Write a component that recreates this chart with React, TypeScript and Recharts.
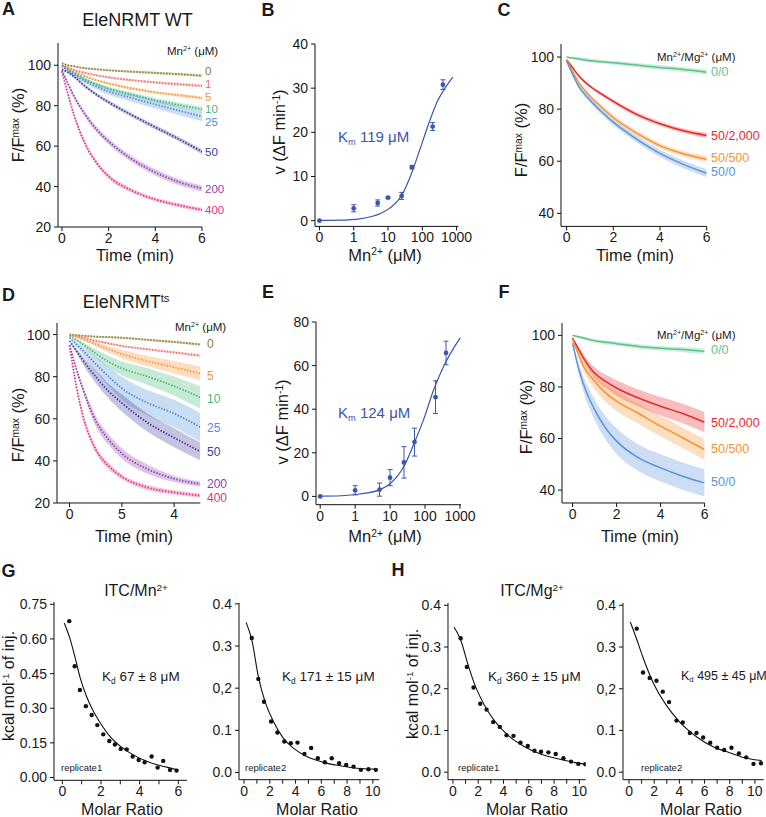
import React from 'react';
import { ComposedChart, Line, Area, Scatter, ErrorBar, XAxis, YAxis } from 'recharts';

const FONT = '"Liberation Sans", Arial, Helvetica, sans-serif';
const INK = '#1a1a1a';

// ---------- A: EleNRMT WT, Mn2+ series (F/Fmax %) ----------
const timeA = [0, 0.25, 0.5, 1, 1.5, 2, 3, 4, 5, 6];
const wt0 = [101, 100, 99.5, 98.5, 98, 97.5, 96.8, 96.2, 95.6, 94.8];
const wt1 = [100, 99, 97.8, 96.2, 95, 94, 92.6, 91.5, 90.6, 89.8];
const wt5 = [100, 98.5, 97, 94.5, 92.5, 91, 88.5, 86.6, 85.2, 83.8];
const wt10 = [100, 98, 96.3, 93, 90.5, 88.5, 85.5, 82.7, 80.4, 78.2];
const wt25 = [99.5, 97.5, 95.5, 92, 89.3, 87, 83.8, 80.6, 77.6, 74.6];
const wt50 = [98, 96.5, 94.5, 89.5, 85.3, 81.7, 75.3, 69.3, 63.5, 57.2];
const wt200 = [97.5, 91, 85, 75.5, 68, 62.3, 53.5, 47, 42.3, 39];
const wt400 = [97, 86, 76, 61, 51.5, 45, 38, 33.6, 30.8, 28.5];
const wtSd0 = [0.3, 0.4, 0.4, 0.5, 0.5, 0.5, 0.6, 0.6, 0.7, 0.7];
const wtSd1 = [0.3, 0.4, 0.4, 0.5, 0.5, 0.5, 0.6, 0.6, 0.7, 0.7];
const wtSd5 = [0.3, 0.4, 0.5, 0.6, 0.6, 0.6, 0.7, 0.7, 0.8, 0.8];
const wtSd10 = [0.3, 0.5, 0.6, 0.8, 0.9, 1, 1, 1.1, 1.2, 1.3];
const wtSd25 = [0.3, 0.6, 0.8, 1.2, 1.4, 1.6, 1.8, 2, 2.2, 2.3];
const wtSd50 = [0.3, 0.5, 0.6, 0.8, 0.9, 1, 1, 1.1, 1.1, 1.2];
const wtSd200 = [0.3, 0.8, 1, 1.3, 1.4, 1.5, 1.5, 1.5, 1.5, 1.5];
const wtSd400 = [0.3, 0.8, 1, 1.2, 1.2, 1.2, 1.1, 1, 1, 1];

// ---------- D: EleNRMTts, Mn2+ series ----------
const timeD = [0, 0.25, 0.5, 1, 1.5, 2, 3, 4, 5];
const ts0 = [100, 99.7, 99.5, 99, 98.8, 98.5, 97.5, 96.5, 95.3];
const ts1 = [100, 99.3, 98.7, 97, 95.8, 94.6, 93, 91.5, 90];
const ts5 = [100, 99, 97.8, 95.5, 93, 90.8, 87.3, 84.5, 81.5];
const ts10 = [99.5, 97.5, 95.5, 91, 87, 84, 80, 75.5, 70.2];
const ts25 = [98.5, 95.5, 92.5, 86, 80, 74.5, 67.5, 62.5, 56];
const ts50 = [97, 92.5, 88, 80, 73, 67.5, 58, 51, 44.5];
const ts200 = [95, 84, 74.5, 59, 50, 43.5, 36, 31.5, 29];
const ts400 = [95, 76, 62, 45.5, 37.5, 32.5, 27.3, 25, 23.5];
const tsSd0 = [0.3, 0.4, 0.4, 0.5, 0.5, 0.5, 0.5, 0.6, 0.6];
const tsSd1 = [0.3, 0.4, 0.4, 0.5, 0.5, 0.5, 0.5, 0.6, 0.6];
const tsSd5 = [0.2, 0.3, 0.5, 1, 1.5, 2, 2.5, 3, 3.3];
const tsSd10 = [0.2, 0.5, 1, 2, 2.8, 3.3, 4, 4.6, 5.3];
const tsSd25 = [0.2, 1, 2, 3.5, 4.5, 5.5, 6, 6.5, 6.8];
const tsSd50 = [0.2, 1, 2, 3, 3.5, 4, 4.3, 4.5, 4.2];
const tsSd200 = [0.2, 1, 1.5, 2.5, 2.5, 2.5, 2.2, 1.5, 1.2];
const tsSd400 = [0.2, 1, 1.5, 1.5, 1.5, 1.2, 1.2, 1, 1];

const mnLabels = ['0', '1', '5', '10', '25', '50', '200', '400'];
const mnColors = ['#8a7b2c', '#f26d6d', '#f7922f', '#44b87b', '#4c8fd8', '#3b3b9f', '#8f3fae', '#e23189'];

// ---------- C / F: Mn2+/Mg2+ competition ----------
const timeMg = [0, 0.25, 0.5, 1, 1.5, 2, 3, 4, 5, 6];
const wtMg00 = [100, 99.6, 99.3, 98.6, 98.2, 97.8, 96.9, 96, 95.2, 94.2];
const wtMg2000 = [99, 96, 93, 88.8, 85.8, 83, 78, 74.4, 71.7, 69.9];
const wtMg500 = [99, 94.5, 90.5, 85, 80.7, 76.8, 70.8, 66, 62.9, 60.8];
const wtMg0 = [98.5, 93.5, 89, 83.5, 79, 75, 68.5, 63, 58.8, 55.4];
const wtMgSd00 = [0.3, 0.5, 0.6, 0.7, 0.7, 0.8, 0.8, 0.9, 0.9, 1];
const wtMgSd2000 = [0.3, 0.4, 0.5, 0.6, 0.7, 0.8, 0.8, 0.9, 0.9, 1];
const wtMgSd500 = [0.3, 0.5, 0.6, 0.7, 0.8, 0.9, 1, 1, 1, 1.1];
const wtMgSd0 = [0.3, 0.6, 0.8, 1, 1.1, 1.2, 1.3, 1.4, 1.5, 1.5];
const tsMg00 = [100, 99.5, 99, 97.9, 97.3, 96.8, 95.7, 95, 94.5, 93.8];
const tsMg2000 = [99, 95, 91.2, 85.4, 82.2, 79.6, 75.7, 72.5, 69.7, 66.3];
const tsMg500 = [98.5, 93, 88, 82.2, 77.7, 74.5, 69.7, 64.8, 60.3, 55.7];
const tsMg0 = [97, 88, 81, 71.2, 64.1, 59, 52.5, 48.6, 45.4, 42.8];
const tsMgSd00 = [0.3, 0.5, 0.6, 0.7, 0.8, 0.8, 0.9, 0.9, 1, 1];
const tsMgSd2000 = [0.2, 1, 1.5, 2.2, 2.6, 3, 3.3, 3.6, 3.8, 4];
const tsMgSd500 = [0.2, 1.2, 2, 3, 3.5, 3.8, 4, 4, 4, 4];
const tsMgSd0 = [0.2, 2, 3, 4, 4.5, 5, 5.2, 5.3, 5.3, 5.3];
const mgLabels = ['0/0', '50/2,000', '50/500', '50/0'];
const mgColors = ['#5cc28a', '#e8292b', '#f7922e', '#5b93da'];

// ---------- B / E: rate vs [Mn2+] ----------
const concMn = [0, 1, 5, 10, 25, 50, 200, 400];
const rateWt = [0, 2.8, 4.0, 5.2, 5.6, 12.1, 21.3, 30.8];
const errWt = [0, 0.8, 0.7, 0.2, 0.8, 0.4, 0.9, 1.1];
const fitConcWt = [0.1, 0.4, 1.5, 6, 11.5, 25, 49, 85, 150, 260, 460, 780];
const fitRateWt = [0.05, 0.1, 0.4, 1.6, 2.9, 5.7, 10.8, 16.1, 21.7, 26.6, 30, 32.5];
const rateTs = [0, 2.8, 3.1, 8.6, 15.6, 24.9, 45.5, 65.8];
const errTs = [0, 2.1, 3, 3.7, 7.2, 6.4, 7.5, 5.4];
const fitConcTs = [0.1, 0.4, 1.4, 5.2, 10, 25, 47, 91, 178, 340, 660, 1020];
const fitRateTs = [0.1, 0.3, 1.1, 3.1, 5.8, 13.8, 23.7, 35.2, 49, 59.6, 68, 72.7];
const concTickLabels = ['0', '1', '10', '100', '1000'];
const KM_BLUE = '#3a56b0';

// ---------- G / H: ITC ----------
const mnRep1X = [0.36, 0.64, 0.91, 1.22, 1.52, 1.81, 2.12, 2.43, 2.72, 3.02, 3.33, 3.64, 3.95, 4.26, 4.62, 4.93, 5.22, 5.57, 5.91];
const mnRep1Y = [0.677, 0.482, 0.379, 0.309, 0.271, 0.227, 0.187, 0.158, 0.143, 0.124, 0.122, 0.091, 0.076, 0.066, 0.091, 0.043, 0.072, 0.033, 0.03];
const mnRep1FitX = [0.1, 0.4, 0.66, 0.91, 1.26, 1.6, 1.95, 2.47, 2.98, 3.67, 4.53, 5.4, 6];
const mnRep1FitY = [0.669, 0.6, 0.52, 0.436, 0.35, 0.288, 0.238, 0.177, 0.137, 0.098, 0.065, 0.045, 0.033];
const mnRep2X = [0.6, 1.11, 1.55, 2.1, 2.59, 3.13, 3.63, 4.15, 4.69, 5.21, 5.73, 6.27, 6.81, 7.38, 7.93, 8.5, 9.07, 9.66, 10.23];
const mnRep2Y = [0.319, 0.222, 0.168, 0.121, 0.095, 0.0735, 0.0696, 0.071, 0.044, 0.058, 0.034, 0.0245, 0.034, 0.022, 0.018, 0.014, 0.0063, 0.0079, 0.0063];
const mnRep2FitX = [0.16, 0.6, 1.11, 1.63, 2.28, 3.06, 3.83, 4.87, 6.17, 7.46, 8.76, 10.23];
const mnRep2FitY = [0.356, 0.315, 0.228, 0.168, 0.121, 0.081, 0.058, 0.038, 0.024, 0.016, 0.01, 0.008];
const mgRep1X = [0.61, 1.1, 1.63, 2.16, 2.66, 3.18, 3.71, 4.24, 4.79, 5.34, 5.92, 6.45, 6.97, 7.55, 8.13, 8.74, 9.34, 9.92, 10.47];
const mgRep1Y = [0.321, 0.252, 0.203, 0.164, 0.15, 0.12, 0.1085, 0.0887, 0.0871, 0.0705, 0.0626, 0.0515, 0.049, 0.0475, 0.0436, 0.0333, 0.0253, 0.0198, 0.019];
const mgRep1FitX = [0.08, 0.6, 1.18, 1.71, 2.5, 3.29, 4.34, 5.66, 6.97, 8.29, 10, 10.5];
const mgRep1FitY = [0.348, 0.318, 0.259, 0.211, 0.16, 0.123, 0.0887, 0.061, 0.043, 0.032, 0.021, 0.019];
const mgRep2X = [0.61, 1.11, 1.64, 2.18, 2.68, 3.18, 3.77, 4.27, 4.83, 5.36, 5.89, 6.45, 7.0, 7.56, 8.14, 8.73, 9.31, 9.89, 10.48];
const mgRep2Y = [0.344, 0.239, 0.226, 0.219, 0.193, 0.168, 0.1236, 0.119, 0.094, 0.094, 0.083, 0.0705, 0.0586, 0.053, 0.0586, 0.045, 0.0356, 0.0198, 0.0214];
const mgRep2FitX = [0.1, 0.58, 1.11, 1.91, 2.97, 4.03, 5.36, 6.68, 8.01, 9.34, 10.53];
const mgRep2FitY = [0.36, 0.321, 0.275, 0.215, 0.16, 0.12, 0.085, 0.061, 0.0467, 0.0333, 0.028];
const itcTicks4 = ['0.0', '0.1', '0,2', '0.3', '0.4'];

// ---------- layout helpers ----------
const M = { top: 12, right: 24, left: 0, bottom: 0 };
const YW = 48;
const XH = 32;
const axisStroke = { stroke: '#111', strokeWidth: 1 };
const tickFont = { fill: INK, fontSize: 14 };

function frame(r: number[]) {
  const [x0, y0, x1, y1] = r;
  return { left: x0 - YW, top: y0 - M.top, width: x1 - x0 + YW + M.right, height: y1 - y0 + M.top + XH };
}

const logPos = (c: number) => (c > 0 ? Math.log10(c) : -1);

type Trace = { mean: number[]; sd: number[]; color: string };

function axes(xKey: string, xDomain: number[], xTicks: number[], xFmt: (v: number, i: number) => string,
  yDomain: number[], yTicks: number[], yFmt: (v: number, i: number) => string) {
  return [
    <XAxis key="x" xAxisId={0} type="number" dataKey={xKey} domain={xDomain} ticks={xTicks} interval={0}
      allowDataOverflow height={XH} axisLine={axisStroke} tickLine={axisStroke} tickSize={4} tickMargin={2}
      tick={tickFont} tickFormatter={xFmt} />,
    <YAxis key="y" yAxisId={0} type="number" domain={yDomain} ticks={yTicks} interval={0}
      allowDataOverflow width={YW} axisLine={axisStroke} tickLine={axisStroke} tickSize={4} tickMargin={3}
      tick={tickFont} tickFormatter={yFmt} />,
  ];
}

function TracePanel({ rect, time, traces, xDomain, xTicks, xLabels, yDomain, yTicks, dotted }: {
  rect: number[]; time: number[]; traces: Trace[]; xDomain: number[]; xTicks: number[]; xLabels: string[];
  yDomain: number[]; yTicks: number[]; dotted: boolean;
}) {
  const data = time.map((t, i) => {
    const row: Record<string, unknown> = { t };
    traces.forEach((s, k) => {
      row['m' + k] = s.mean[i];
      row['b' + k] = [s.mean[i] - s.sd[i], s.mean[i] + s.sd[i]];
    });
    return row;
  });
  const f = frame(rect);
  return (
    <div style={{ position: 'absolute', left: f.left, top: f.top }}>
      <ComposedChart width={f.width} height={f.height} data={data} margin={M}>
        {axes('t', xDomain, xTicks, (_v, i) => xLabels[i], yDomain, yTicks, (v) => String(v))}
        {traces.map((s, k) => (
          <Area key={'b' + k} dataKey={'b' + k} type="monotone" stroke="none" fill={s.color}
            fillOpacity={0.3} isAnimationActive={false} />
        ))}
        {traces.map((s, k) => (
          <Line key={'m' + k} dataKey={'m' + k} type="monotone" stroke={s.color} strokeWidth={dotted ? 1.8 : 1.5}
            strokeDasharray={dotted ? '1.4 1.6' : undefined} dot={false} isAnimationActive={false} />
        ))}
      </ComposedChart>
    </div>
  );
}

function RatePanel({ rect, rate, err, fitConc, fitRate, yDomain, yTicks }: {
  rect: number[]; rate: number[]; err: number[]; fitConc: number[]; fitRate: number[];
  yDomain: number[]; yTicks: number[];
}) {
  const pts = concMn.map((c, i) => ({ x: logPos(c), y: rate[i], err: err[i] }));
  const fit = fitConc.map((c, i) => ({ x: logPos(c), y: fitRate[i] }));
  const f = frame(rect);
  return (
    <div style={{ position: 'absolute', left: f.left, top: f.top }}>
      <ComposedChart width={f.width} height={f.height} margin={M}>
        {axes('x', [rect[4], rect[5]], [-1, 0, 1, 2, 3], (_v, i) => concTickLabels[i], yDomain, yTicks, (v) => String(v))}
        <Line data={fit} dataKey="y" type="monotone" stroke={KM_BLUE} strokeWidth={1.2} dot={false} isAnimationActive={false} />
        <Scatter data={pts} dataKey="y" fill={KM_BLUE} isAnimationActive={false}
          shape={(p: any) => <circle cx={p.cx} cy={p.cy} r={2.4} fill={KM_BLUE} />}>
          <ErrorBar dataKey="err" direction="y" width={2.5} stroke={KM_BLUE} strokeWidth={1} />
        </Scatter>
      </ComposedChart>
    </div>
  );
}

function ItcPanel({ rect, xs, ys, fx, fy, xDomain, xMax, yDomain, yTicks, yLabels }: {
  rect: number[]; xs: number[]; ys: number[]; fx: number[]; fy: number[]; xDomain: number[]; xMax: number;
  yDomain: number[]; yTicks: number[]; yLabels: string[];
}) {
  const pts = xs.map((x, i) => ({ x, y: ys[i] }));
  const fit = fx.map((x, i) => ({ x, y: fy[i] }));
  const xTicks = Array.from({ length: xMax + 1 }, (_, i) => i);
  const f = frame(rect);
  return (
    <div style={{ position: 'absolute', left: f.left, top: f.top }}>
      <ComposedChart width={f.width} height={f.height} margin={M}>
        {axes('x', xDomain, xTicks, (v) => (v % 2 === 0 ? String(v) : ''), yDomain, yTicks, (_v, i) => yLabels[i])}
        <Line data={fit} dataKey="y" type="monotone" stroke="#111" strokeWidth={1.1} dot={false} isAnimationActive={false} />
        <Scatter data={pts} dataKey="y" fill="#111" isAnimationActive={false}
          shape={(p: any) => <circle cx={p.cx} cy={p.cy} r={2.2} fill="#111" />} />
      </ComposedChart>
    </div>
  );
}

function Txt({ x, y, size = 16, color = INK, align = 'center', bold = false, rotate = false, children }: {
  x: number; y: number; size?: number; color?: string; align?: string; bold?: boolean; rotate?: boolean;
  children: React.ReactNode;
}) {
  const tx = align === 'center' ? '-50%' : '0';
  return (
    <div style={{
      position: 'absolute', left: x, top: y, fontSize: size, color, fontWeight: bold ? 700 : 400,
      lineHeight: 0.9, whiteSpace: 'nowrap', transform: `translate(${tx}, -50%)${rotate ? ' rotate(-90deg)' : ''}`,
    }}>{children}</div>
  );
}

const Sup = ({ children }: { children: React.ReactNode }) => (
  <span style={{ fontSize: '0.62em', position: 'relative', top: '-0.5em' }}>{children}</span>
);
const Sub = ({ children }: { children: React.ReactNode }) => (
  <span style={{ fontSize: '0.62em', position: 'relative', top: '0.3em' }}>{children}</span>
);

const FFmax = () => <>F/F<Sup>max</Sup> (%)</>;
const MnConc = () => <>Mn<Sup>2+</Sup> (μM)</>;
const Kcal = () => <>kcal mol<Sup>-1</Sup> of inj.</>;

export default function App() {
  const tracesA: Trace[] = [
    { mean: wt0, sd: wtSd0, color: mnColors[0] }, { mean: wt1, sd: wtSd1, color: mnColors[1] },
    { mean: wt5, sd: wtSd5, color: mnColors[2] }, { mean: wt10, sd: wtSd10, color: mnColors[3] },
    { mean: wt25, sd: wtSd25, color: mnColors[4] }, { mean: wt50, sd: wtSd50, color: mnColors[5] },
    { mean: wt200, sd: wtSd200, color: mnColors[6] }, { mean: wt400, sd: wtSd400, color: mnColors[7] },
  ];
  const tracesD: Trace[] = [
    { mean: ts0, sd: tsSd0, color: mnColors[0] }, { mean: ts1, sd: tsSd1, color: mnColors[1] },
    { mean: ts5, sd: tsSd5, color: mnColors[2] }, { mean: ts10, sd: tsSd10, color: mnColors[3] },
    { mean: ts25, sd: tsSd25, color: mnColors[4] }, { mean: ts50, sd: tsSd50, color: mnColors[5] },
    { mean: ts200, sd: tsSd200, color: mnColors[6] }, { mean: ts400, sd: tsSd400, color: mnColors[7] },
  ];
  const tracesC: Trace[] = [
    { mean: wtMg00, sd: wtMgSd00, color: mgColors[0] }, { mean: wtMg2000, sd: wtMgSd2000, color: mgColors[1] },
    { mean: wtMg500, sd: wtMgSd500, color: mgColors[2] }, { mean: wtMg0, sd: wtMgSd0, color: mgColors[3] },
  ];
  const tracesF: Trace[] = [
    { mean: tsMg00, sd: tsMgSd00, color: mgColors[0] }, { mean: tsMg2000, sd: tsMgSd2000, color: mgColors[1] },
    { mean: tsMg500, sd: tsMgSd500, color: mgColors[2] }, { mean: tsMg0, sd: tsMgSd0, color: mgColors[3] },
  ];

  // label anchor positions (layout only)
  const labelYA = [71, 83.5, 96.5, 109, 121.5, 152, 189, 210];
  const labelYD = [344, null, 376, 399, 428, 452, 484, 498];
  const labelYC = [73, 137, 159, 173];
  const labelYF = [351, 424, 450, 483];

  return (
    <div style={{ position: 'absolute', left: 0, top: 0, width: 766, height: 817, background: '#fff', fontFamily: FONT, color: INK, overflow: 'hidden' }}>
      <TracePanel rect={[58, 43, 202, 227]} time={timeA} traces={tracesA} xDomain={[-0.17, 6]} xTicks={[0, 2, 4, 6]}
        xLabels={['0', '2', '4', '6']} yDomain={[20, 111]} yTicks={[20, 40, 60, 80, 100]} dotted />
      <RatePanel rect={[315, 44.3, 458.3, 226.7, -1.13, 3.05]} rate={rateWt} err={errWt} fitConc={fitConcWt}
        fitRate={fitRateWt} yDomain={[-1.3, 40]} yTicks={[0, 10, 20, 30, 40]} />
      <TracePanel rect={[561, 44.3, 706.7, 226.7]} time={timeMg} traces={tracesC} xDomain={[-0.24, 6]} xTicks={[0, 2, 4, 6]}
        xLabels={['0', '2', '4', '6']} yDomain={[35, 105]} yTicks={[40, 60, 80, 100]} dotted={false} />
      <TracePanel rect={[56.7, 323.3, 200, 503.3]} time={timeD} traces={tracesD} xDomain={[-0.48, 5]} xTicks={[0, 2, 4]}
        xLabels={['0', '5', '4']} yDomain={[20, 105.5]} yTicks={[20, 40, 60, 80, 100]} dotted />
      <RatePanel rect={[315.7, 322.3, 460.7, 505, -1.12, 3.03]} rate={rateTs} err={errTs} fitConc={fitConcTs}
        fitRate={fitRateTs} yDomain={[-3.8, 80]} yTicks={[0, 20, 40, 60, 80]} />
      <TracePanel rect={[561.7, 323.3, 704.3, 503.3]} time={timeMg} traces={tracesF} xDomain={[-0.48, 6]} xTicks={[0, 2, 4, 6]}
        xLabels={['0', '2', '4', '6']} yDomain={[35, 104.8]} yTicks={[40, 60, 80, 100]} dotted={false} />

      <ItcPanel rect={[54, 601.7, 187, 780]} xs={mnRep1X} ys={mnRep1Y} fx={mnRep1FitX} fy={mnRep1FitY}
        xDomain={[-0.43, 6.45]} xMax={6} yDomain={[-0.012, 0.76]} yTicks={[0, 0.15, 0.3, 0.45, 0.6, 0.75]}
        yLabels={['0.00', '0.15', '0.30', '0.45', '0.60', '0.75']} />
      <ItcPanel rect={[239, 603.3, 379.3, 780]} xs={mnRep2X} ys={mnRep2Y} fx={mnRep2FitX} fy={mnRep2FitY}
        xDomain={[-0.39, 10.5]} xMax={10} yDomain={[-0.017, 0.402]} yTicks={[0, 0.1, 0.2, 0.3, 0.4]} yLabels={itcTicks4} />
      <ItcPanel rect={[448.3, 603.3, 586, 780]} xs={mgRep1X} ys={mgRep1Y} fx={mgRep1FitX} fy={mgRep1FitY}
        xDomain={[-0.39, 10.5]} xMax={10} yDomain={[-0.018, 0.4055]} yTicks={[0, 0.1, 0.2, 0.3, 0.4]} yLabels={itcTicks4} />
      <ItcPanel rect={[623.3, 603.3, 764, 780]} xs={mgRep2X} ys={mgRep2Y} fx={mgRep2FitX} fy={mgRep2FitY}
        xDomain={[-0.48, 10.7]} xMax={10} yDomain={[-0.018, 0.4055]} yTicks={[0, 0.1, 0.2, 0.3, 0.4]} yLabels={itcTicks4} />

      {/* panel letters */}
      <Txt x={8.5} y={9} size={18} bold>A</Txt>
      <Txt x={268} y={10} size={18} bold>B</Txt>
      <Txt x={504} y={10} size={18} bold>C</Txt>
      <Txt x={8.5} y={295} size={18} bold>D</Txt>
      <Txt x={268} y={291.5} size={18} bold>E</Txt>
      <Txt x={504} y={291.5} size={18} bold>F</Txt>
      <Txt x={8.5} y={571} size={18} bold>G</Txt>
      <Txt x={398} y={570} size={18} bold>H</Txt>

      {/* titles */}
      <Txt x={137.5} y={20} size={18}>EleNRMT WT</Txt>
      <Txt x={126} y={302} size={18}>EleNRMT<Sup>ts</Sup></Txt>
      <Txt x={136} y={591} size={16}>ITC/Mn<Sup>2+</Sup></Txt>
      <Txt x={532} y={591} size={16}>ITC/Mg<Sup>2+</Sup></Txt>

      {/* axis labels */}
      <Txt x={135} y={254.5} size={16.5}>Time (min)</Txt>
      <Txt x={17.5} y={125} size={16.5} rotate><FFmax /></Txt>
      <Txt x={385} y={254.5} size={16.5}><MnConc /></Txt>
      <Txt x={279} y={132} size={16.5} rotate>v (ΔF min<Sup>-1</Sup>)</Txt>
      <Txt x={635} y={254.5} size={16.5}>Time (min)</Txt>
      <Txt x={521} y={140} size={16.5} rotate><FFmax /></Txt>
      <Txt x={134} y={536} size={16.5}>Time (min)</Txt>
      <Txt x={17.5} y={425} size={16.5} rotate><FFmax /></Txt>
      <Txt x={385} y={536} size={16.5}><MnConc /></Txt>
      <Txt x={282} y={422} size={16.5} rotate>v (ΔF min<Sup>-1</Sup>)</Txt>
      <Txt x={640} y={536} size={16.5}>Time (min)</Txt>
      <Txt x={526} y={417} size={16.5} rotate><FFmax /></Txt>
      <Txt x={122} y={810} size={16}>Molar Ratio</Txt>
      <Txt x={317} y={810} size={16}>Molar Ratio</Txt>
      <Txt x={527} y={810} size={16}>Molar Ratio</Txt>
      <Txt x={701} y={810} size={16}>Molar Ratio</Txt>
      <Txt x={9} y={686} size={16} rotate><Kcal /></Txt>
      <Txt x={412.5} y={684} size={16} rotate><Kcal /></Txt>

      {/* series legends */}
      <Txt x={167} y={51} size={11.5} align="start"><MnConc /></Txt>
      {mnLabels.map((l, i) => (
        <Txt key={'la' + i} x={205} y={labelYA[i]} size={11.5} color={mnColors[i]} align="start">{l}</Txt>
      ))}
      <Txt x={175} y={327} size={11.5} align="start"><MnConc /></Txt>
      {mnLabels.map((l, i) => (labelYD[i] == null ? null : (
        <Txt key={'ld' + i} x={207} y={labelYD[i] as number} size={12} color={mnColors[i]} align="start">{l}</Txt>
      )))}
      <Txt x={657} y={57} size={11.5} align="start">Mn<Sup>2+</Sup>/Mg<Sup>2+</Sup> (μM)</Txt>
      {mgLabels.map((l, i) => (
        <Txt key={'lc' + i} x={711} y={labelYC[i]} size={12.5} color={mgColors[i]} align="start">{l}</Txt>
      ))}
      <Txt x={657} y={335} size={11.5} align="start">Mn<Sup>2+</Sup>/Mg<Sup>2+</Sup> (μM)</Txt>
      {mgLabels.map((l, i) => (
        <Txt key={'lf' + i} x={711} y={labelYF[i]} size={12.5} color={mgColors[i]} align="start">{l}</Txt>
      ))}

      {/* Km / Kd annotations */}
      <Txt x={338} y={137} size={15} color={KM_BLUE} align="start">K<Sub>m</Sub> 119 μM</Txt>
      <Txt x={338} y={413} size={15} color={KM_BLUE} align="start">K<Sub>m</Sub> 124 μM</Txt>
      <Txt x={102} y={677} size={13.5} align="start">K<Sub>d</Sub> 67 ± 8 μM</Txt>
      <Txt x={282} y={677} size={13.5} align="start">K<Sub>d</Sub> 171 ± 15 μM</Txt>
      <Txt x={488} y={677} size={13.5} align="start">K<Sub>d</Sub> 360 ± 15 μM</Txt>
      <Txt x={681} y={677} size={12.5} align="start">K<Sub>d</Sub> 495 ± 45 μM</Txt>
      <Txt x={61} y={768} size={9.5} align="start">replicate1</Txt>
      <Txt x={245} y={768} size={9.5} align="start">replicate2</Txt>
      <Txt x={458} y={768} size={9.5} align="start">replicate1</Txt>
      <Txt x={641} y={768} size={9.5} align="start">replicate2</Txt>
    </div>
  );
}
